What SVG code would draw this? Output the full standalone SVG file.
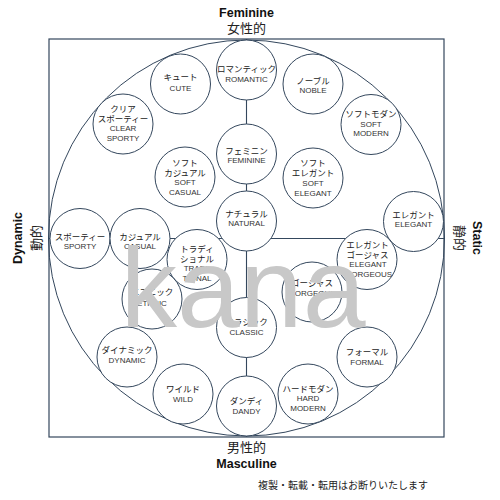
<svg xmlns="http://www.w3.org/2000/svg" width="500" height="500" viewBox="0 0 500 500">
<style>
.frame{fill:none;stroke:#34475d;stroke-width:1.2}
.axis{fill:none;stroke:#34475d;stroke-width:1.1}
.big{fill:none;stroke:#34475d;stroke-width:1}
.node circle{fill:#fff;stroke:#34475d;stroke-width:1}
.jp{font-family:"Noto Sans CJK JP","Noto Sans",sans-serif;font-size:8.5px;fill:#222;text-anchor:middle}
.en{font-family:"Liberation Sans",Arial,sans-serif;font-size:8px;fill:#333;text-anchor:middle}
.title{font-family:"Liberation Sans",Arial,sans-serif;font-size:12.5px;font-weight:bold;fill:#111;text-anchor:middle}
.titlejp{font-family:"Noto Sans CJK JP",sans-serif;font-size:13px;fill:#222;text-anchor:middle}
.note{font-family:"Noto Sans CJK JP",sans-serif;font-size:10px;fill:#222}
.wm{font-family:"Liberation Sans",Arial,sans-serif;font-size:113px;fill:#c8c8c8}
</style>
<rect class="frame" x="49" y="39" width="395" height="398"/>
<g id="connectors">
<line class="axis" x1="246.5" y1="39" x2="246.5" y2="437"/>
<line class="axis" x1="49" y1="238.5" x2="444" y2="238.5"/>
</g>
<circle class="big" cx="246.5" cy="238" r="198"/>
<g id="cute" class="node"><circle cx="180.5" cy="84" r="30"/><text class="jp" x="180.5" y="80.2">キュート</text><text class="en" x="180.5" y="90.6">CUTE</text></g>
<g id="clear-sporty" class="node"><circle cx="123" cy="124" r="30"/><text class="jp" x="123" y="111.8">クリア</text><text class="jp" x="123" y="121.8">スポーティー</text><text class="en" x="123" y="130.6">CLEAR</text><text class="en" x="123" y="140.6">SPORTY</text></g>
<g id="romantic" class="node"><circle cx="246.5" cy="70" r="30"/><text class="jp" x="246.5" y="72.2">ロマンティック</text><text class="en" x="246.5" y="82.1">ROMANTIC</text></g>
<g id="noble" class="node"><circle cx="313" cy="84" r="30"/><text class="jp" x="313" y="84">ノーブル</text><text class="en" x="313" y="93.4">NOBLE</text></g>
<g id="soft-modern" class="node"><circle cx="371" cy="124.5" r="30"/><text class="jp" x="371" y="117">ソフトモダン</text><text class="en" x="371" y="126.6">SOFT</text><text class="en" x="371" y="135.9">MODERN</text></g>
<g id="feminine" class="node"><circle cx="246.5" cy="154" r="30"/><text class="jp" x="246.5" y="153.5">フェミニン</text><text class="en" x="246.5" y="162.9">FEMININE</text></g>
<g id="soft-casual" class="node"><circle cx="185" cy="177" r="30"/><text class="jp" x="185" y="165.8">ソフト</text><text class="jp" x="185" y="175.8">カジュアル</text><text class="en" x="185" y="185.2">SOFT</text><text class="en" x="185" y="195.2">CASUAL</text></g>
<g id="soft-elegant" class="node"><circle cx="313" cy="178" r="30"/><text class="jp" x="313" y="166">ソフト</text><text class="jp" x="313" y="176.2">エレガント</text><text class="en" x="313" y="185.6">SOFT</text><text class="en" x="313" y="195.9">ELEGANT</text></g>
<g id="natural" class="node"><circle cx="246.5" cy="221" r="30"/><text class="jp" x="246.5" y="216.8">ナチュラル</text><text class="en" x="246.5" y="226.2">NATURAL</text></g>
<g id="sporty" class="node"><circle cx="80" cy="238.5" r="30"/><text class="jp" x="80" y="239.5">スポーティー</text><text class="en" x="80" y="248.9">SPORTY</text></g>
<g id="casual" class="node"><circle cx="140" cy="238.5" r="30"/><text class="jp" x="140" y="239.5">カジュアル</text><text class="en" x="140" y="248.9">CASUAL</text></g>
<g id="traditional" class="node"><circle cx="197" cy="259.5" r="30"/><text class="jp" x="197" y="251.8">トラディ</text><text class="jp" x="197" y="262">ショナル</text><text class="en" x="197" y="271.1">TRADI-</text><text class="en" x="197" y="280.6">TIONAL</text></g>
<g id="ethnic" class="node"><circle cx="152" cy="299" r="30"/><text class="jp" x="152" y="295.2">エスニック</text><text class="en" x="152" y="305.6">ETHNIC</text></g>
<g id="classic" class="node"><circle cx="246.5" cy="327.5" r="30"/><text class="jp" x="246.5" y="325.2">クラシック</text><text class="en" x="246.5" y="335.2">CLASSIC</text></g>
<g id="gorgeous" class="node"><circle cx="312" cy="292" r="30"/><text class="jp" x="312" y="286">ゴージャス</text><text class="en" x="312" y="295.6">GORGEOUS</text></g>
<g id="elegant-gorgeous" class="node"><circle cx="367" cy="259.5" r="30"/><text class="jp" x="367.5" y="247.5">エレガント</text><text class="jp" x="367.5" y="257.8">ゴージャス</text><text class="en" x="368" y="267.2">ELEGANT</text><text class="en" x="368.5" y="277.2">GORGEOUS</text></g>
<g id="elegant" class="node"><circle cx="413.5" cy="221.5" r="30"/><text class="jp" x="413.5" y="217.8">エレガント</text><text class="en" x="413.5" y="227.2">ELEGANT</text></g>
<g id="dynamic" class="node"><circle cx="127" cy="357" r="30"/><text class="jp" x="127" y="352.5">ダイナミック</text><text class="en" x="127" y="362.9">DYNAMIC</text></g>
<g id="wild" class="node"><circle cx="183" cy="394" r="30"/><text class="jp" x="183" y="391.8">ワイルド</text><text class="en" x="183" y="401.9">WILD</text></g>
<g id="dandy" class="node"><circle cx="246.5" cy="406" r="30"/><text class="jp" x="246.5" y="403.5">ダンディ</text><text class="en" x="246.5" y="413.6">DANDY</text></g>
<g id="hard-modern" class="node"><circle cx="308" cy="394" r="30"/><text class="jp" x="308" y="391.8">ハードモダン</text><text class="en" x="308" y="401.2">HARD</text><text class="en" x="308" y="411.2">MODERN</text></g>
<g id="formal" class="node"><circle cx="367" cy="357" r="30"/><text class="jp" x="367" y="355.2">フォーマル</text><text class="en" x="367" y="365.2">FORMAL</text></g>
<g id="labels">
<text class="title" x="246.5" y="17">Feminine</text>
<text class="titlejp" x="246.5" y="33">女性的</text>
<text class="titlejp" x="246.5" y="452">男性的</text>
<text class="title" x="246.5" y="468">Masculine</text>
<text class="title" transform="translate(22,238) rotate(-90)">Dynamic</text>
<text class="titlejp" transform="translate(41,238) rotate(-90)">動的</text>
<text class="title" transform="translate(472.5,238) rotate(90)">Static</text>
<text class="titlejp" transform="translate(455,238) rotate(90)">静的</text>
<text class="note" x="258" y="489">複製・転載・転用はお断りいたします</text>
</g>
<text class="wm" x="120.5" y="327">kana</text>
</svg>
